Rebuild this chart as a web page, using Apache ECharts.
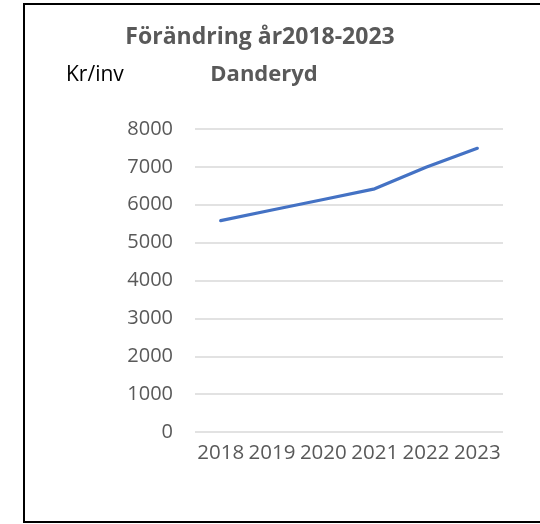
<!DOCTYPE html>
<html>
<head>
<meta charset="utf-8">
<script src="https://cdn.jsdelivr.net/npm/echarts@6/dist/echarts.min.js"></script>
<style>
    html, body {
        margin: 0;
        padding: 0;
        background: #fff;
    }
    .frame {
        position: absolute;
        left: 23px;
        top: 3px;
        width: 560px;
        height: 516px;
        border: 2px solid #000;
    }
    #myChart {
        position: absolute;
        left: 0;
        top: 0;
        width: 540px;
        height: 524px;
    }
</style>
</head>
<body>

<div class="frame"></div>
<div id="myChart"></div>

<script>
    // årtal och värden (kr/inv)
    var years = ['2018', '2019', '2020', '2021', '2022', '2023']
    var values = [5580, 5860, 6140, 6420, 6990, 7490]
    var yTicks = [0, 1000, 2000, 3000, 4000, 5000, 6000, 7000, 8000]

    var font = '"Open Sans", "Noto Sans", sans-serif'

    var myChart = echarts.init(document.getElementById('myChart'))

    myChart.setOption({
        animation: false,
        title: [{
            text: 'Förändring år2018-2023',
            left: 255,
            top: 21,
            textAlign: 'center',
            textStyle: {
                fontFamily: font,
                fontSize: 23,
                fontWeight: 'bold',
                color: '#595959'
            }
        }, {
            text: 'Danderyd',
            left: 259,
            top: 59,
            textAlign: 'center',
            textStyle: {
                fontFamily: font,
                fontSize: 22,
                fontWeight: 'bold',
                color: '#595959'
            }
        }, {
            text: 'Kr/inv',
            left: 61,
            top: 60,
            textStyle: {
                fontFamily: font,
                fontSize: 21,
                fontWeight: 'normal',
                color: '#000'
            }
        }],
        grid: {
            left: 195,
            right: 37,
            top: 129,
            bottom: 92,
            containLabel: false
        },
        xAxis: {
            type: 'category',
            boundaryGap: true,
            data: years,
            axisLine: { show: false },
            axisTick: { show: false },
            axisLabel: {
                interval: 0,
                margin: 11,
                fontFamily: font,
                fontSize: 20.5,
                color: '#595959'
            }
        },
        yAxis: {
            type: 'value',
            min: yTicks[0],
            max: yTicks[yTicks.length - 1],
            interval: yTicks[1] - yTicks[0],
            axisLine: { show: false },
            axisTick: { show: false },
            axisLabel: {
                margin: 22,
                fontFamily: font,
                fontSize: 20,
                color: '#595959',
                formatter: function (v) { return String(v) }
            },
            splitLine: {
                lineStyle: {
                    color: '#d9d9d9',
                    width: 1.5
                }
            }
        },
        series: [{
            type: 'line',
            data: values,
            symbol: 'none',
            lineStyle: {
                color: '#4472C4',
                width: 3.2,
                cap: 'round'
            }
        }]
    })
</script>

</body>
</html>
